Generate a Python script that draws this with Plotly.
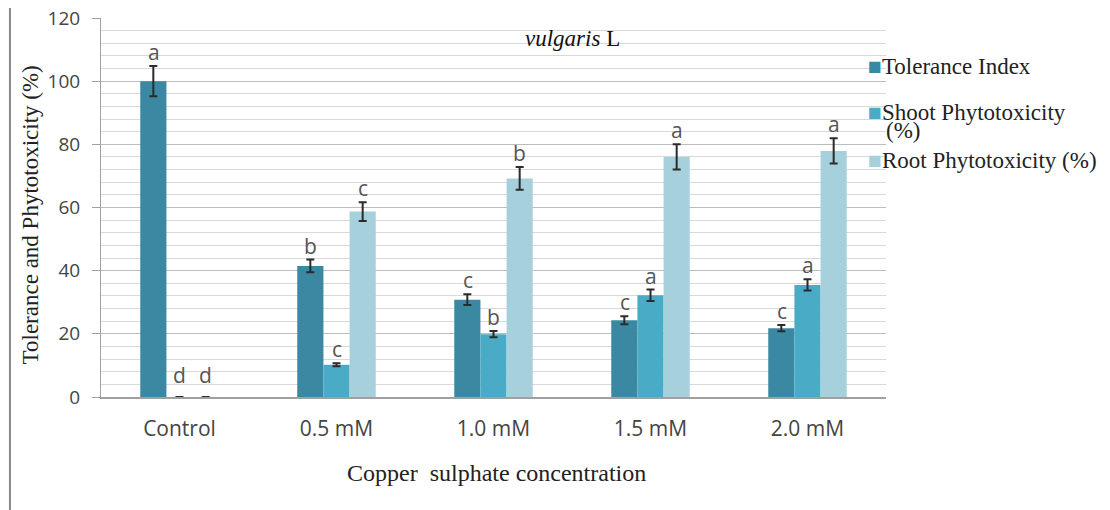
import plotly.graph_objects as go

categories = ["Control", "0.5 mM", "1.0 mM", "1.5 mM", "2.0 mM"]
tolerance = [100, 41.5, 30.8, 24.3, 21.8]
tolerance_err = [4.8, 2.0, 1.7, 1.3, 1.0]
shoot = [0, 10.2, 19.9, 32.2, 35.5]
shoot_err = [0, 0.5, 1.0, 1.8, 1.8]
root = [0, 58.7, 69.2, 76.0, 77.9]
root_err = [0, 3.0, 3.6, 4.0, 4.0]
tol_letters = ["a", "b", "c", "c", "c"]
shoot_letters = ["d", "c", "b", "a", "a"]
root_letters = ["d", "c", "b", "a", "a"]
y_ticks = [0, 20, 40, 60, 80, 100, 120]

series = [
    ("Tolerance Index", tolerance, tolerance_err, tol_letters, "#3a88a2", -26),
    ("Shoot Phytotoxicity (%)", shoot, shoot_err, shoot_letters, "#4aabc6", 0),
    ("Root Phytotoxicity (%)", root, root_err, root_letters, "#a7d0dd", 26),
]

fig = go.Figure()
annotations = []
for name, vals, errs, letters, color, shift in series:
    fig.add_trace(go.Bar(
        x=categories, y=vals, name=name, marker=dict(color=color, line=dict(width=0)),
        error_y=dict(type="data", array=[e if e > 0 else None for e in errs], visible=True,
                     color="#2b2b2b", thickness=2, width=4),
        showlegend=False,
    ))
    for c, v, e, l in zip(categories, vals, errs, letters):
        annotations.append(dict(
            x=c, y=v + e, xref="x", yref="y", text=l, showarrow=False,
            xshift=shift, yshift=14 if v > 0 else 22,
            xanchor="center", yanchor="middle",
            font=dict(family="Open Sans, Liberation Sans", size=21, color="#555555"),
        ))

# legend drawn as text
legend_items = [
    ("<span style='color:#3a88a2'>■</span>Tolerance Index", 0.974, 0.873),
    ("<span style='color:#4aabc6'>■</span>Shoot Phytotoxicity", 0.974, 0.750),
    ("(%)", 0.9975, 0.702),
    ("<span style='color:#a7d0dd'>■</span>Root Phytotoxicity (%)", 0.974, 0.625),
]
for text, xx, yy in legend_items:
    annotations.append(dict(
        x=xx, y=yy, xref="paper", yref="paper", xanchor="left", yanchor="middle",
        text=text, showarrow=False, align="left",
        font=dict(family="Liberation Serif", size=23, color="#222222"),
    ))

annotations.append(dict(
    x=0.60, y=0.947, xref="paper", yref="paper", text="<i>vulgaris</i> L", showarrow=False,
    xanchor="center", yanchor="middle",
    font=dict(family="Liberation Serif", size=23, color="#111111"),
))
annotations.append(dict(
    x=-0.09, y=0.48, xref="paper", yref="paper", text="Tolerance and Phytotoxicity (%)",
    xanchor="center", yanchor="middle",
    showarrow=False, textangle=-90, font=dict(family="Liberation Serif", size=23, color="#222222"),
))
annotations.append(dict(
    x=0.504, y=-0.2005, xref="paper", yref="paper", text="Copper  sulphate concentration",
    xanchor="center", yanchor="middle",
    showarrow=False, font=dict(family="Liberation Serif", size=24, color="#222222"),
))

fig.update_layout(
    width=1110, height=510,
    margin=dict(l=93, r=232, t=10, b=121),
    barmode="group", bargap=0.5, bargroupgap=0,
    plot_bgcolor="white", paper_bgcolor="white",
    annotations=annotations,
    shapes=[dict(type="line", xref="paper", yref="paper", x0=-0.116, x1=-0.116, y0=-0.3, y1=1.05,
                 line=dict(color="#888888", width=2))],
)
fig.update_yaxes(
    range=[0, 120], tickvals=y_ticks, showgrid=True, gridcolor="#bdbdbd", gridwidth=1,
    minor=dict(dtick=4, showgrid=True, gridcolor="#d9d9d9", gridwidth=1),
    showline=True, linecolor="#a0a0a0", linewidth=1, ticks="outside", ticklen=8, tickcolor="#a0a0a0",
    ticklabelstandoff=8, ticklabeloverflow="allow", automargin=False,
    tickfont=dict(family="Open Sans, Liberation Sans", size=19, color="#444444"), zeroline=False,
)
fig.update_xaxes(
    showline=True, linecolor="#a0a0a0", linewidth=2, ticks="", automargin=False,
    ticklabelstandoff=12,
    tickfont=dict(family="Open Sans, Liberation Sans", size=21, color="#444444"),
)
fig.write_html("out.html")
